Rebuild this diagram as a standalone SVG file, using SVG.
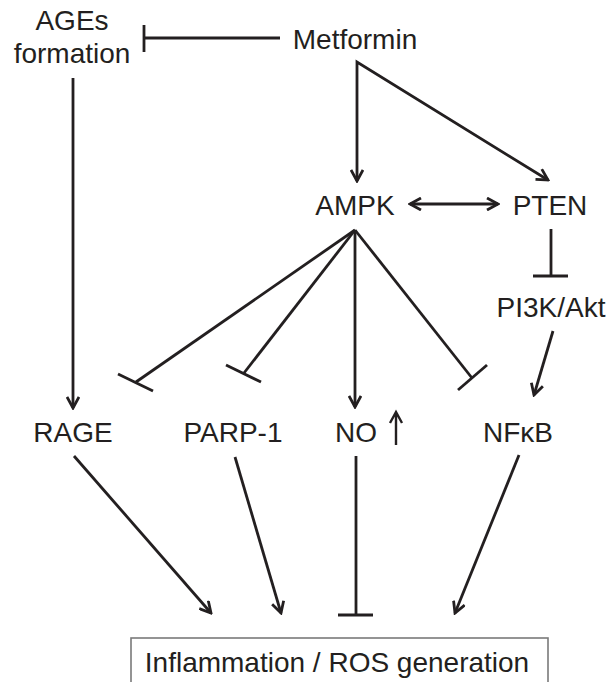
<svg xmlns="http://www.w3.org/2000/svg" width="609" height="682" viewBox="0 0 609 682">
<style>
text{font-family:"Liberation Sans",Arial,sans-serif;font-size:28px;fill:#231f20;text-anchor:middle}
.c path,.c line{stroke:#231f20;stroke-width:2.8;fill:none}
.a{marker-end:url(#ah)}
.box{fill:#fff;stroke:#7a7a7a;stroke-width:1.6}
</style>
<defs>
<marker id="ah" markerUnits="userSpaceOnUse" viewBox="0 0 14 14" markerWidth="14" markerHeight="14" refX="12" refY="7" orient="auto-start-reverse">
<path d="M1,1 L12,7 L1,13" fill="none" stroke="#231f20" stroke-width="2.8"/>
</marker>
</defs>
<rect width="609" height="682" fill="#fff"/>
<g id="node-ages"><text x="72" y="30">AGEs</text><text x="72" y="63">formation</text></g>
<g id="node-metformin"><text x="355" y="49">Metformin</text></g>
<g id="node-ampk"><text x="355" y="215">AMPK</text></g>
<g id="node-pten"><text x="550" y="215">PTEN</text></g>
<g id="node-pi3k"><text x="551" y="317">PI3K/Akt</text></g>
<g id="node-rage"><text x="73" y="442">RAGE</text></g>
<g id="node-parp"><text x="233" y="442">PARP-1</text></g>
<g id="node-no"><text x="356" y="442">NO</text>
<path d="M396,445 L396,413 M390,423 L396,412 L402,423" fill="none" stroke="#231f20" stroke-width="2.4"/></g>
<g id="node-nfkb"><text x="518" y="442">NFκB</text></g>
<g id="node-inflammation"><rect class="box" x="131" y="638" width="417" height="60"/><text x="337" y="672">Inflammation / ROS generation</text></g>
<g id="connectors" class="c">
<line x1="280" y1="38" x2="144" y2="38"/><line x1="144" y1="25" x2="144" y2="52"/>
<path d="M357,181 L357,62 L548,180" style="marker-start:url(#ah);marker-end:url(#ah)" stroke-linejoin="miter"/>
<path d="M410,204 L498,204" style="marker-start:url(#ah);marker-end:url(#ah)"/>
<line x1="551" y1="229" x2="551" y2="276"/><line x1="533" y1="276" x2="568" y2="276"/>
<path class="a" d="M553,331 L534,395"/>
<line x1="355" y1="230" x2="136" y2="382"/><line x1="118" y1="374" x2="153" y2="391"/>
<line x1="355" y1="230" x2="244" y2="373"/><line x1="226" y1="365" x2="261" y2="382"/>
<path class="a" d="M355,230 L355,407"/>
<line x1="355" y1="230" x2="472" y2="378"/><line x1="458" y1="390" x2="487" y2="365"/>
<path class="a" d="M73,78 L73,408"/>
<path class="a" d="M74,456 L211,613"/>
<path class="a" d="M235,457 L281,613"/>
<line x1="356" y1="456" x2="356" y2="615"/><line x1="338" y1="615" x2="373" y2="615"/>
<path class="a" d="M519,455 L455,613"/>
</g>
</svg>
